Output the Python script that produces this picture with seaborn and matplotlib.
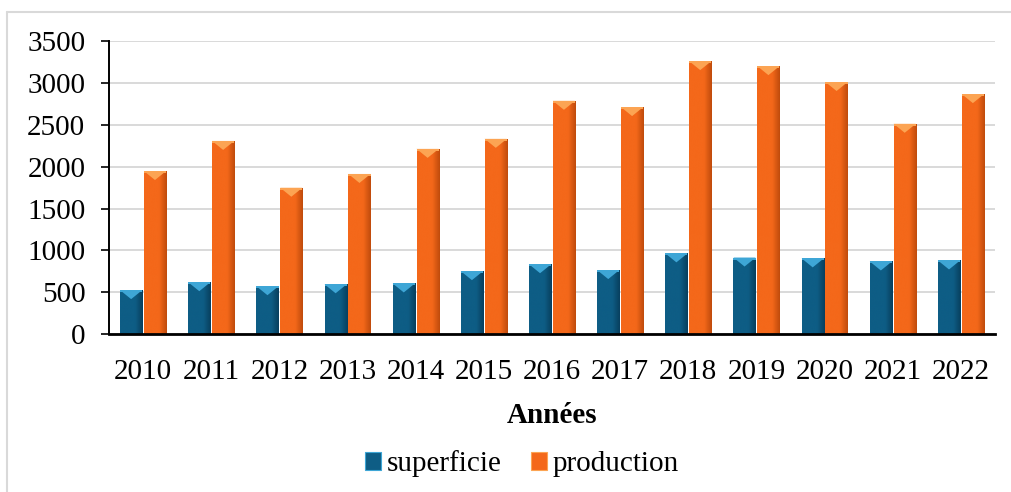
import numpy as np
import pandas as pd
import matplotlib
matplotlib.use("Agg")
import matplotlib.pyplot as plt
import matplotlib.colors as mcolors
from matplotlib.patches import Polygon
from matplotlib.lines import Line2D
import seaborn as sns

# ============================================
# Data
# ============================================
YEARS = ["2010", "2011", "2012", "2013", "2014", "2015", "2016",
         "2017", "2018", "2019", "2020", "2021", "2022"]
SUPERFICIE = [525, 620, 572, 595, 605, 752, 835, 765, 965, 915, 905, 868, 880]
PRODUCTION = [1950, 2310, 1750, 1915, 2215, 2335, 2790, 2715, 3265, 3205, 3015, 2515, 2870]
SERIES = ["superficie", "production"]
Y_TICKS = [0, 500, 1000, 1500, 2000, 2500, 3000, 3500]

COLORS = {"superficie": "#0e5d85", "production": "#f4681a"}
LIGHT = {"superficie": "#3ea6d6", "production": "#fca453"}
DARK = {"superficie": "#083f5e", "production": "#bf4b0c"}

df = pd.DataFrame({
    "Années": YEARS * 2,
    "valeur": SUPERFICIE + PRODUCTION,
    "série": [SERIES[0]] * len(YEARS) + [SERIES[1]] * len(YEARS),
})

# ============================================
# Figure
# ============================================
sns.set_theme(style="white")
plt.rcParams["font.family"] = ["Liberation Serif", "DejaVu Serif"]
plt.rcParams["text.color"] = "black"
plt.rcParams["xtick.color"] = "black"
plt.rcParams["ytick.color"] = "black"
plt.rcParams["axes.labelcolor"] = "black"

FS = 21

fig = plt.figure(figsize=(10.11, 4.92), dpi=100)
ax = fig.add_axes([0.1078, 0.3211, 0.8764, 0.5946])

sns.barplot(data=df, x="Années", y="valeur", hue="série", palette=COLORS,
            width=0.7, gap=0.07, ax=ax, legend=False, saturation=1,
            edgecolor="none", linewidth=0)

ax.set_xlim(-0.5, len(YEARS) - 0.5)
ax.set_ylim(0, 3500)
ax.set_yticks(Y_TICKS)
ax.yaxis.grid(True, color="#d9d9d9", linewidth=1.4)
ax.set_axisbelow(True)

for s in ["top", "right"]:
    ax.spines[s].set_visible(False)
ax.spines["left"].set_color("black")
ax.spines["left"].set_linewidth(1.4)
ax.spines["bottom"].set_color("black")
ax.spines["bottom"].set_linewidth(2.0)
ax.spines["bottom"].set_zorder(5)

ax.tick_params(axis="y", which="major", left=True, length=6, width=1.2,
               color="black", labelcolor="black", labelsize=FS, pad=11)
ax.tick_params(axis="x", bottom=False, labelcolor="black", labelsize=FS, pad=12)
ax.set_ylabel("")
ax.set_xlabel("Années", fontsize=FS, fontweight="bold", labelpad=12,
              color="black")

# bevelled look: horizontal gradient plus a light triangle on top
fig.canvas.draw()
grad = np.linspace(0, 1, 64).reshape(1, -1)
to_data = ax.transData.inverted()
for i, patch in enumerate(ax.patches):
    name = SERIES[0] if i < len(YEARS) else SERIES[1]
    base = mcolors.to_rgb(COLORS[name])
    dark = mcolors.to_rgb(DARK[name])
    cmap = mcolors.LinearSegmentedColormap.from_list(name, [base, base, base, dark])
    x0, y0 = patch.get_x(), patch.get_y()
    w, h = patch.get_width(), patch.get_height()
    img = ax.imshow(grad, extent=[x0, x0 + w, y0, y0 + h], cmap=cmap,
                    aspect="auto", zorder=patch.get_zorder() + 0.1,
                    interpolation="bicubic")
    img.set_clip_path(patch)
    # triangle bevel of a fixed pixel depth
    (px0, py1) = ax.transData.transform((x0, y0 + h))
    (px1, _) = ax.transData.transform((x0 + w, y0 + h))
    depth = 9
    pts = to_data.transform([(px0, py1), (px1, py1), ((px0 + px1) / 2, py1 - depth)])
    ax.add_patch(Polygon(pts, closed=True, facecolor=LIGHT[name],
                         edgecolor="none", zorder=patch.get_zorder() + 0.2))
    ax.add_patch(Polygon(
        to_data.transform([(px0, py1), (px1, py1), (px1, py1 - 2), (px0, py1 - 2)]),
        closed=True, facecolor=LIGHT[name], edgecolor="none",
        zorder=patch.get_zorder() + 0.2))

ax.set_xlim(-0.5, len(YEARS) - 0.5)
ax.set_ylim(0, 3500)

# legend
handles = [plt.Rectangle((0, 0), 1, 1, facecolor=COLORS[s], edgecolor=LIGHT[s],
                         linewidth=0.8) for s in SERIES]
fig.legend(handles, SERIES, loc="center", bbox_to_anchor=(0.516, 0.057), ncol=2,
           frameon=False, fontsize=FS, handlelength=0.55, handleheight=0.55,
           handletextpad=0.2, columnspacing=1.0)

# outer chart frame (cut by image edges)
frame_kw = dict(color="#d9d9d9", linewidth=1.5, transform=fig.transFigure)
fig.add_artist(Line2D([0.0069, 1.0], [0.9756, 0.9756], **frame_kw))
fig.add_artist(Line2D([0.0069, 0.0069], [0.0, 0.9756], **frame_kw))

fig.savefig("out.png", dpi=100)
